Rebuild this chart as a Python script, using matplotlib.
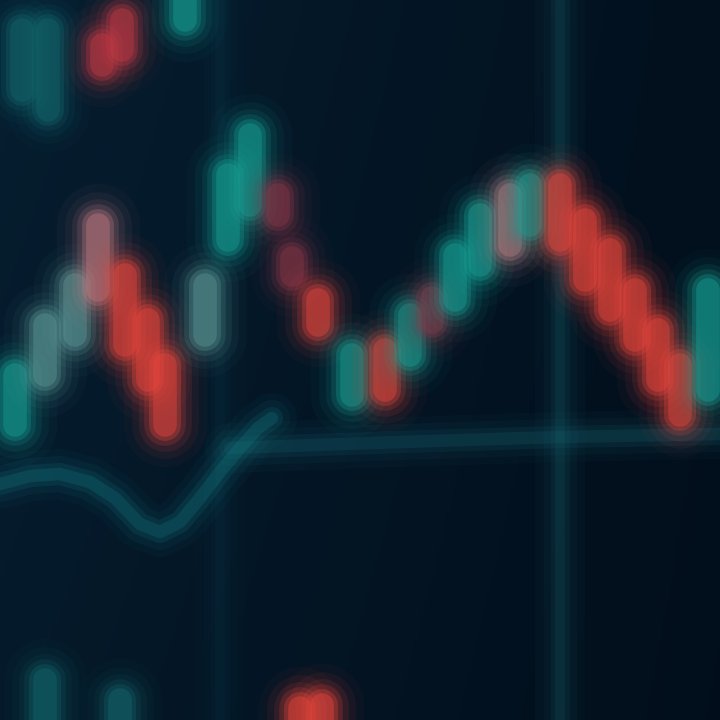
import matplotlib
matplotlib.use("Agg")
import matplotlib.pyplot as plt
import numpy as np

# ---- data (time index, open, close) in price units ----
candle_t = [15, 45, 75, 98, 125, 148, 165, 205, 228, 250, 278, 292, 318,
            352, 385, 410, 432, 455, 480, 510, 530, 560, 585, 610, 635, 658, 680, 708,
            22, 48, 102, 122, 185, 300, 322, 45, 120]
candle_open = [295, 345, 385, 430, 445, 400, 355, 385, 480, 515, 525, 462, 420,
               325, 370, 365, 422, 420, 455, 525, 495, 535, 500, 470, 430, 390, 355, 330,
               630, 610, 675, 700, 720, 12, 15, 0, 0]
candle_close = [345, 395, 435, 495, 375, 340, 295, 435, 545, 585, 505, 445, 395,
                365, 330, 405, 398, 465, 505, 475, 535, 480, 440, 410, 380, 340, 305, 430,
                690, 690, 655, 670, 700, 0, 0, 40, 20]
candle_kind = ["up", "pale", "pale", "pink", "down", "down", "down", "pale", "up", "up",
               "dim", "dim", "down", "up", "down", "up", "dim", "up", "up", "pink", "up",
               "down", "down", "down", "down", "down", "down", "up",
               "faint", "faint", "mid", "mid", "up", "down", "down", "faint", "faint"]

ma_t = [0, 30, 60, 90, 115, 140, 160, 180, 200, 220, 240, 258, 272]
ma_v = [236, 244, 246, 238, 222, 196, 188, 198, 222, 248, 272, 292, 302]

level_t = [230, 400, 560, 720]
level_v = [272, 278, 283, 286]

colors = {"up": "#16a094", "down": "#e8463c", "pale": "#5d9896",
          "pink": "#c07a80", "dim": "#8a3646", "faint": "#13666c", "mid": "#c23a44"}

fig = plt.figure(figsize=(7.2, 7.2), dpi=100)
ax = fig.add_axes([0, 0, 1, 1])
ax.set_xlim(0, 720)
ax.set_ylim(0, 720)
ax.axis("off")

# background gradient
gx = np.linspace(0, 1, 200)
gy = np.linspace(0, 1, 200)
X, Y = np.meshgrid(gx, gy)
base = np.array([0x06, 0x1e, 0x30]) / 255
dark = np.array([0x01, 0x0b, 0x17]) / 255
w = np.clip(0.6 * X + 0.25 * (1 - Y) + 0.15 * Y * X, 0, 1)[..., None]
bg = base * (1 - w) + dark * w
ax.imshow(bg, extent=[0, 720, 0, 720], origin="lower", aspect="auto", zorder=0)

# faint vertical grid lines
for xv, a in [(220, 0.4), (560, 1.0)]:
    for lw, aa in [(36, 0.04), (24, 0.06), (14, 0.09), (7, 0.12)]:
        ax.axvline(xv, color="#1f7f8a", lw=lw, alpha=aa * a, zorder=1)

# glowing level line
for lw, aa in [(36, 0.05), (26, 0.08), (16, 0.12), (9, 0.18)]:
    ax.plot(level_t, level_v, color="#1a6f7a", lw=lw, alpha=aa, solid_capstyle="round", zorder=2)

# moving-average line
for lw, aa in [(36, 0.05), (26, 0.08), (16, 0.14), (9, 0.22)]:
    ax.plot(ma_t, ma_v, color="#168890", lw=lw, alpha=aa, solid_capstyle="round",
            solid_joinstyle="round", zorder=3)

# candles with glow
for t, o, c, k in zip(candle_t, candle_open, candle_close, candle_kind):
    col = colors[k]
    lo, hi = min(o, c), max(o, c)
    for lw, aa in [(60, 0.04), (48, 0.07), (38, 0.11), (30, 0.18), (23, 0.3), (17, 0.42)]:
        ax.vlines(t, lo, hi, color=col, lw=lw, alpha=aa, capstyle="round", zorder=4)

fig.savefig("out.png", dpi=100, facecolor=fig.get_facecolor())
